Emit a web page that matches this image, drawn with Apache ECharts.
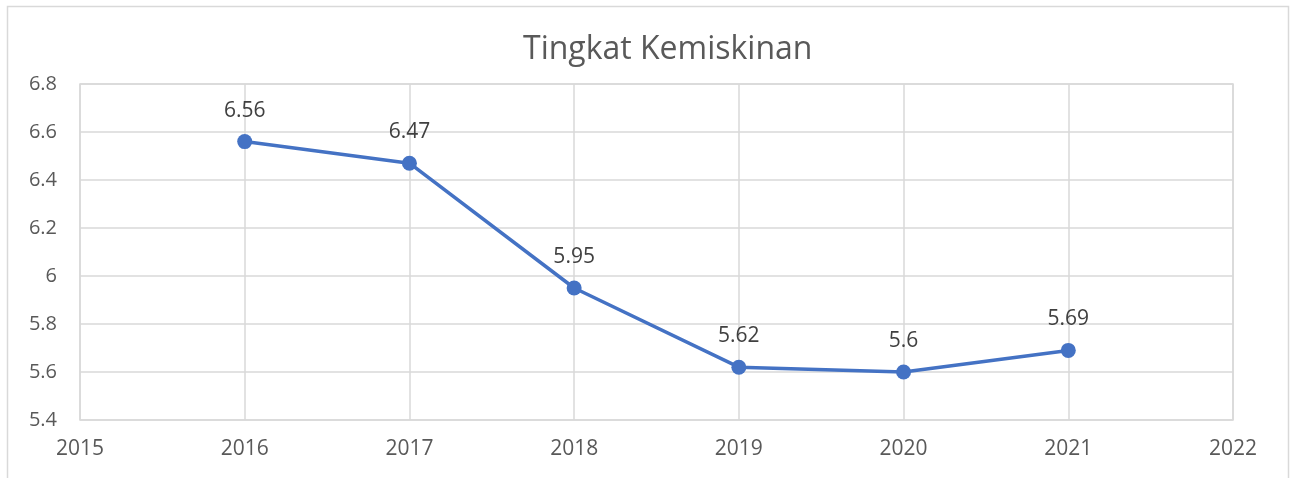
<!DOCTYPE html>
<html>
<head>
<meta charset="utf-8">
<script src="https://cdn.jsdelivr.net/npm/echarts@6/dist/echarts.min.js"></script>
<style>
  html, body { margin: 0; padding: 0; background: #fff; }
  #chart { width: 1296px; height: 478px; }
</style>
</head>
<body>
<div id="chart"></div>
<script>
const years = [2016, 2017, 2018, 2019, 2020, 2021]
const rates = [6.56, 6.47, 5.95, 5.62, 5.6, 5.69]

const chart = echarts.init(document.getElementById('chart'))
const font = 'Open Sans, Noto Sans, sans-serif'

chart.setOption({
  animation: false,
  title: {
    text: 'Tingkat Kemiskinan',
    left: 518,
    top: 29,
    textStyle: { fontFamily: font, fontSize: 32, fontWeight: 'normal', color: '#595959' }
  },
  graphic: [{
    type: 'rect',
    shape: { x: 7.5, y: 6.5, width: 1281, height: 500 },
    style: { fill: 'none', stroke: '#d9d9d9', lineWidth: 1.5 },
    silent: true
  }],
  grid: {
    left: 80, right: 63, top: 84, bottom: 58,
    show: true, borderColor: '#d9d9d9', borderWidth: 1.5
  },
  xAxis: {
    type: 'value',
    min: 2015, max: 2022, interval: 1,
    axisLine: { show: false },
    axisTick: { show: false },
    splitLine: { show: true, lineStyle: { color: '#d9d9d9', width: 1.5 } },
    axisLabel: {
      margin: 19, fontFamily: font, fontSize: 21, color: '#595959',
      formatter: v => String(v)
    }
  },
  yAxis: {
    type: 'value',
    min: 5.4, max: 6.8, interval: 0.2,
    axisLine: { show: false },
    axisTick: { show: false },
    splitLine: { show: true, lineStyle: { color: '#d9d9d9', width: 1.5 } },
    axisLabel: {
      margin: 23, fontFamily: font, fontSize: 20, color: '#595959',
      formatter: v => String(+v.toFixed(1))
    }
  },
  series: [{
    type: 'line',
    data: years.map((y, i) => [y, rates[i]]),
    symbol: 'circle',
    symbolSize: 15,
    lineStyle: { color: '#4472C4', width: 3.5 },
    itemStyle: { color: '#4472C4' },
    label: {
      show: true, position: 'top', distance: 13,
      fontFamily: font, fontSize: 21, color: '#404040',
      formatter: p => String(p.value[1])
    }
  }]
})
</script>
</body>
</html>
